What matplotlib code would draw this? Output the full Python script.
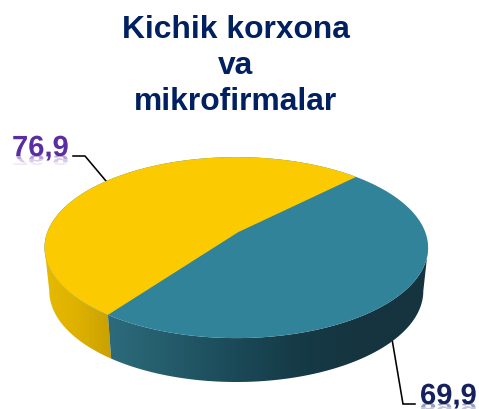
import numpy as np
import matplotlib
matplotlib.use("Agg")
import matplotlib.pyplot as plt
import matplotlib.patheffects as pe
from matplotlib.colors import LinearSegmentedColormap, to_rgba
from matplotlib.patches import Polygon
from matplotlib.transforms import Affine2D, Bbox

# ---- data ----
title = "Kichik korxona\nva\nmikrofirmalar"
values = [76.9, 69.9]
labels = ["76,9", "69,9"]
top_colors = ["#FCCA00", "#31839A"]
label_colors = ["#5B2DA3", "#14205F"]

# ---- geometry (pixels of the 479x410 canvas) ----
cx, cy, rx, ry = 236.3, 248.6, 191.8, 90.5       # top rim
bx, by, brx, bry = 236.3, 292.0, 187.0, 91.0     # bottom rim
apex = np.array([2.0, 15.5])                     # perspective offset of the pie centre
start = 44.8

fig = plt.figure(figsize=(4.79, 4.10), dpi=100, facecolor="white")
ax = fig.add_axes([0, 0, 1, 1])
ax.set_xlim(0, 479)
ax.set_ylim(410, 0)
ax.set_axis_off()


class Reflect(pe.AbstractPathEffect):
    """Fading mirror image under the glyphs."""
    def __init__(self, color, squash=0.5, steps=((3, .24), (6, .16), (11, .10))):
        super().__init__()
        self.color, self.squash, self.steps = color, squash, steps

    def draw_path(self, renderer, gc, tpath, affine, rgbFace=None):
        b = affine.transform([(0, 0)])[0][1]
        mirror = affine + Affine2D().translate(0, -b).scale(1, -self.squash).translate(0, b + 1)
        for h, a in self.steps:
            g = renderer.new_gc()
            g.copy_properties(gc)
            g.set_alpha(a)
            g.set_linewidth(0)
            g.set_clip_rectangle(Bbox([[0, b - h], [479, b + 2]]))
            renderer.draw_path(g, tpath, mirror, to_rgba(self.color))
            g.restore()


def rim_point(theta_deg):
    """Where the ray from the displaced centre at theta meets the top rim."""
    t = np.radians(theta_deg)
    u = np.array([np.cos(t), np.sin(t)])
    a = np.array([apex[0] / rx, apex[1] / ry])
    d = a @ u
    s = -d + np.sqrt(d * d - a @ a + 1)
    p = a + s * u
    return np.degrees(np.arctan2(p[1], p[0])) % 360


def top_xy(phi):
    phi = np.radians(phi)
    return np.column_stack([cx + rx * np.cos(phi), cy - ry * np.sin(phi)])


def bot_xy(phi):
    phi = np.radians(phi)
    return np.column_stack([bx + brx * np.cos(phi), by - bry * np.sin(phi)])


# slice boundaries from the values
span = 360 * values[0] / sum(values)
phi_a = rim_point(start)
phi_b = rim_point(start + span)
pie_apex = np.array([cx + apex[0], cy - apex[1]])

# leader lines lie behind the pie
line_kw = dict(color="black", lw=1.15, solid_joinstyle="miter", zorder=1)
ax.plot([73, 85, 106], [157, 157, 182], **line_kw)
ax.plot([392, 403, 415], [340, 405, 405], **line_kw)


def side(phi0, phi1, stops, x0, x1):
    phi = np.linspace(phi0, phi1, 120)
    pts = np.vstack([top_xy(phi), bot_xy(phi)[::-1]])
    poly = Polygon(pts, closed=True, facecolor="none", edgecolor="none", transform=ax.transData)
    ax.add_patch(poly)
    cmap = LinearSegmentedColormap.from_list("s", stops)
    im = ax.imshow(np.linspace(0, 1, 256)[None, :], cmap=cmap, aspect="auto",
                   extent=(x0, x1, 400, 200), zorder=2, interpolation="bilinear")
    im.set_clip_path(poly)


side(180, phi_b, ["#E6B900", "#DDB100", "#C9A000"], 45, 112)
side(phi_b, 360, ["#2D6C7D", "#245C6B", "#1B4A58", "#163A46", "#15343F", "#15343F"], 104, 428)
ax.set_xlim(0, 479)
ax.set_ylim(410, 0)

# top surface
phi_all = np.linspace(0, 360, 400)
ax.add_patch(Polygon(top_xy(phi_all), closed=True, fc=top_colors[1], ec="none", zorder=3))
phi_y = np.linspace(phi_a, phi_b, 240)
ax.add_patch(Polygon(np.vstack([top_xy(phi_y), pie_apex]), closed=True,
                     fc=top_colors[0], ec="none", zorder=4))

# title
ax.text(236, 14.5, title, ha="center", va="top", multialignment="center",
        family="Liberation Sans", weight="bold", fontsize=22.9, color="#002060",
        linespacing=1.28)

# value labels
ax.text(12, 157, labels[0], ha="left", va="baseline", family="Liberation Sans",
        weight="bold", fontsize=21, color=label_colors[0], zorder=6,
        path_effects=[Reflect(label_colors[0]), pe.Normal()])
ax.text(420, 405, labels[1], ha="left", va="baseline", family="Liberation Sans",
        weight="bold", fontsize=21, color=label_colors[1], zorder=6,
        path_effects=[Reflect(label_colors[1]), pe.Normal()])

fig.savefig("out.png", dpi=100, facecolor="white")
